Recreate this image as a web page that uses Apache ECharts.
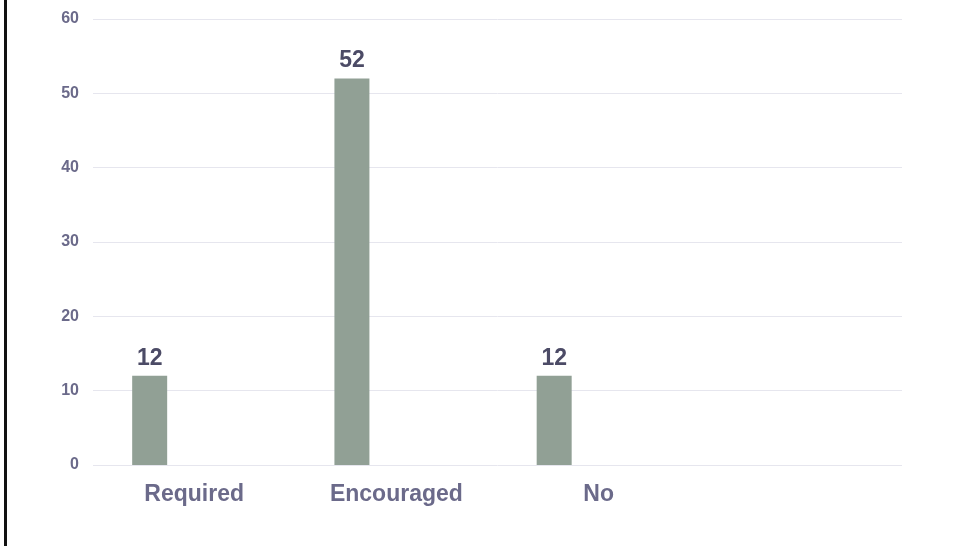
<!DOCTYPE html>
<html>
<head>
<meta charset="utf-8">
<script src="https://cdn.jsdelivr.net/npm/echarts@6/dist/echarts.min.js"></script>
<style>
html,body{margin:0;padding:0;background:#fff;}
#c{width:957px;height:546px;}
</style>
</head>
<body>
<div id="c"></div>
<script>
const categories = ['Required', 'Encouraged', 'No', ''];
const values = [12, 52, 12, null];
const emptySeries = [null, null, null, null];
const yTicks = [0, 10, 20, 30, 40, 50, 60];

const chart = echarts.init(document.getElementById('c'));
chart.setOption({
  animation: false,
  backgroundColor: '#fff',
  graphic: [{
    type: 'rect',
    shape: { x: 4, y: 0, width: 3, height: 546 },
    style: { fill: '#111' }
  }],
  grid: { left: 93, right: 55, top: 19, bottom: 81, containLabel: false },
  xAxis: {
    type: 'category',
    data: categories,
    axisLine: { show: false },
    axisTick: { show: false },
    axisLabel: {
      color: '#6b6a8a',
      fontFamily: 'Liberation Sans, Arial, sans-serif',
      fontWeight: 'bold',
      fontSize: 23,
      margin: 18
    }
  },
  yAxis: {
    type: 'value',
    min: yTicks[0],
    max: yTicks[yTicks.length - 1],
    interval: 10,
    axisLine: { show: false },
    axisTick: { show: false },
    splitLine: { lineStyle: { color: '#e6e6ee', width: 1 } },
    axisLabel: {
      color: '#6b6a8a',
      fontFamily: 'Liberation Sans, Arial, sans-serif',
      fontWeight: 'bold',
      fontSize: 16,
      margin: 14
    }
  },
  series: [{
    type: 'bar',
    data: values,
    barWidth: 35,
    barGap: '154%',
    itemStyle: { color: '#91a095' },
    label: {
      show: true,
      position: 'top',
      distance: 6,
      color: '#4c4b66',
      fontFamily: 'Liberation Sans, Arial, sans-serif',
      fontWeight: 'bold',
      fontSize: 23
    }
  }, {
    type: 'bar',
    data: emptySeries,
    barWidth: 35,
    itemStyle: { color: '#91a095' }
  }]
});
</script>
</body>
</html>
